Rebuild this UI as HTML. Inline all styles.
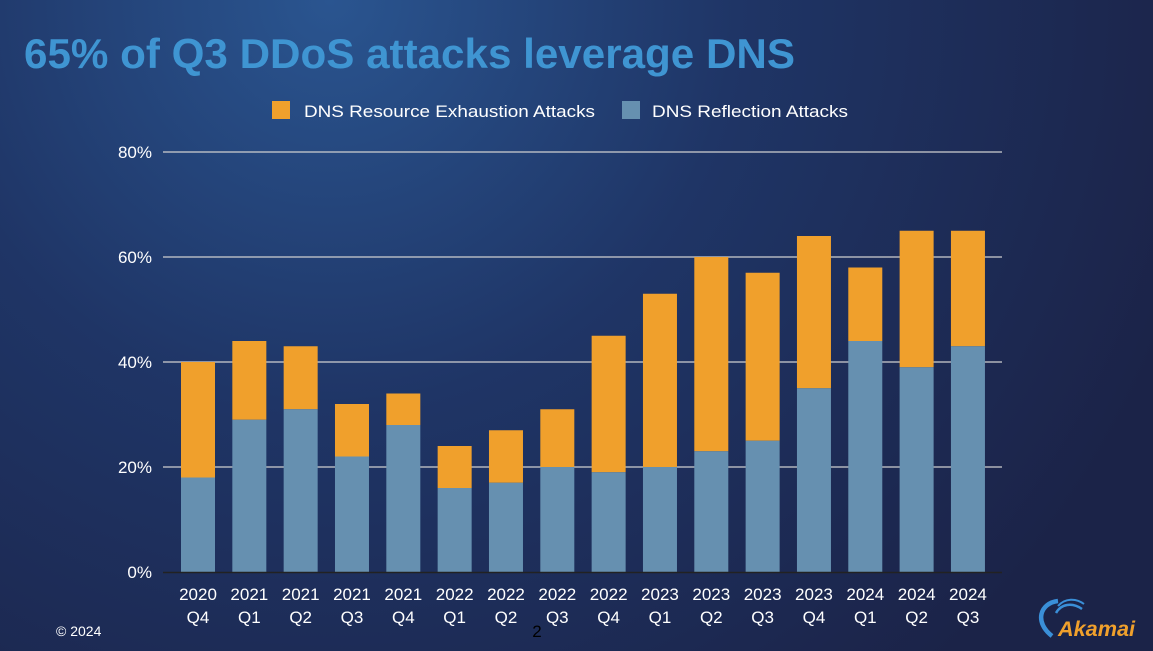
<!DOCTYPE html>
<html><head><meta charset="utf-8"><style>
html,body{margin:0;padding:0;}
body{width:1153px;height:651px;overflow:hidden;background:#1c2549;}
svg{display:block;font-family:"Liberation Sans",sans-serif;}
</style></head><body>
<svg width="1153" height="651" viewBox="0 0 1153 651">
<defs>
<radialGradient id="bg" cx="330" cy="0" r="900" gradientUnits="userSpaceOnUse">
<stop offset="0" stop-color="#2a5590"/>
<stop offset="0.45" stop-color="#1f3566"/>
<stop offset="1" stop-color="#1b2348"/>
</radialGradient>
</defs>
<rect width="1153" height="651" fill="url(#bg)"/>
<text x="24" y="68" font-size="42" font-weight="bold" fill="#3f95d2" textLength="771" lengthAdjust="spacingAndGlyphs">65% of Q3 DDoS attacks leverage DNS</text>
<rect x="272" y="101" width="18" height="18" fill="#f0a02c"/>
<text x="304" y="117" font-size="17" fill="#fff" textLength="291" lengthAdjust="spacingAndGlyphs">DNS Resource Exhaustion Attacks</text>
<rect x="622" y="101" width="18" height="18" fill="#6690b0"/>
<text x="652" y="117" font-size="17" fill="#fff" textLength="196" lengthAdjust="spacingAndGlyphs">DNS Reflection Attacks</text>
<g stroke="#d0d0d0" stroke-width="1.2">
<line x1="163" y1="152" x2="1002" y2="152"/>
<line x1="163" y1="257" x2="1002" y2="257"/>
<line x1="163" y1="362" x2="1002" y2="362"/>
<line x1="163" y1="467" x2="1002" y2="467"/>
</g>
<g font-size="17" fill="#fff" text-anchor="end">
<text x="152" y="158">80%</text><text x="152" y="263">60%</text><text x="152" y="368">40%</text><text x="152" y="473">20%</text><text x="152" y="578">0%</text>
</g>
<g id="bars"></g>
<line x1="163" y1="572.5" x2="1002" y2="572.5" stroke="#222" stroke-width="1.5"/>
<g id="labels" font-size="17" fill="#fff" text-anchor="middle"></g>
<text x="56" y="636" font-size="14" fill="#fff">© 2024</text>
<text x="537" y="637" font-size="17" fill="#000" text-anchor="middle">2</text>
<path d="M1052 636 C1034 622 1040 603 1058 601" stroke="#3a8fd8" stroke-width="4.5" fill="none"/>
<path d="M1056 613 C1061 604 1072 602 1082 609" stroke="#3a8fd8" stroke-width="2.5" fill="none"/>
<path d="M1058 606 C1065 598 1076 598 1084 604" stroke="#3a8fd8" stroke-width="2" fill="none"/>
<text x="1058" y="636" font-size="21" font-weight="bold" font-style="italic" fill="#f0a02c" textLength="77" lengthAdjust="spacingAndGlyphs">Akamai</text>
</svg>
<script>
var d=[[18,40,"2020"],[29,44,"2021"],[31,43,"2021"],[22,32,"2021"],[28,34,"2021"],[16,24,"2022"],[17,27,"2022"],[20,31,"2022"],[19,45,"2022"],[20,53,"2023"],[23,60,"2023"],[25,57,"2023"],[35,64,"2023"],[44,58,"2024"],[39,65,"2024"],[43,65,"2024"]];
var q=["Q4","Q1","Q2","Q3","Q4","Q1","Q2","Q3","Q4","Q1","Q2","Q3","Q4","Q1","Q2","Q3"];
var ns="http://www.w3.org/2000/svg",b=document.getElementById("bars"),l=document.getElementById("labels");
function r(x,y,w,h,c){var e=document.createElementNS(ns,"rect");e.setAttribute("x",x);e.setAttribute("y",y);e.setAttribute("width",w);e.setAttribute("height",h);e.setAttribute("fill",c);b.appendChild(e);}
function t(x,y,s){var e=document.createElementNS(ns,"text");e.setAttribute("x",x);e.setAttribute("y",y);e.textContent=s;l.appendChild(e);}
for(var i=0;i<16;i++){var cx=198+i*51.33,x=cx-17,y0=572;
var yr=y0-d[i][0]*5.25,yt=y0-d[i][1]*5.25;
r(x,yt,34,yr-yt,"#f0a02c");r(x,yr,34,y0-yr,"#6690b0");
t(cx,600,d[i][2]);t(cx,623,q[i]);}
</script>
</body></html>
